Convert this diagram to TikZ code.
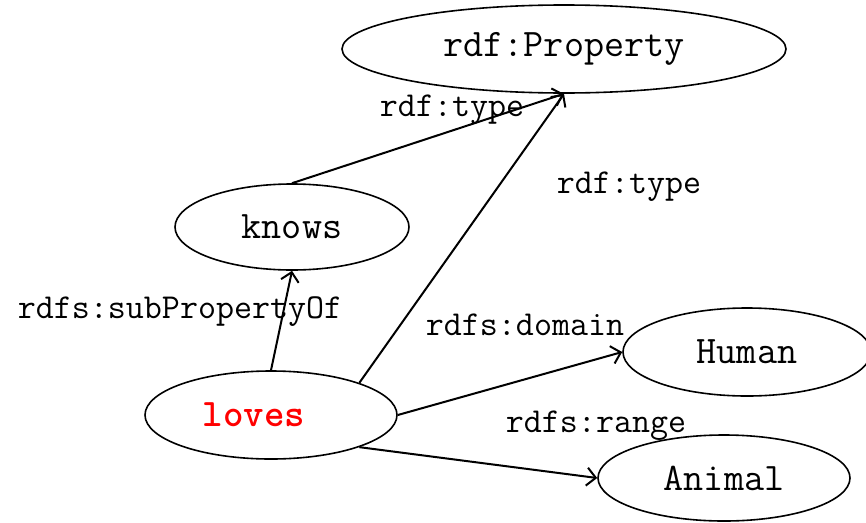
\documentclass[tikz,border=0pt]{standalone}
\usetikzlibrary{shapes.geometric,arrows.meta}
\begin{document}
\begin{tikzpicture}[x=1pt,y=-1pt,
  cls/.style={draw,ellipse,line width=1.6pt,inner sep=0pt,font=\ttfamily\fontsize{39}{44}\selectfont},
  rel/.style={line width=2pt,-{Straight Barb[length=9pt,width=18pt,line width=2pt]}},
  lbl/.style={font=\ttfamily\fontsize{35}{40}\selectfont,inner sep=0pt}]
\useasboundingbox (0,0) rectangle (866,522);
\node[cls,minimum width=444pt,minimum height=88pt] (prop) at (564,49) {rdf:Property};
\node[cls,minimum width=234pt,minimum height=86pt] (knows) at (292,227) {knows};
\node[cls,minimum width=248pt,minimum height=88pt] (human) at (747,352) {Human};
\node[cls,minimum width=252pt,minimum height=88pt] (loves) at (271,415) {};
\node[text=red,font=\ttfamily\bfseries\fontsize{39}{44}\selectfont,inner sep=0pt] (lovestxt) at (254,415) {loves};
\node[cls,minimum width=252pt,minimum height=86pt] (animal) at (724,478) {Animal};
\draw[rel] (knows.north) -- (prop.south);
\draw[rel] (loves.20) -- (prop.south);
\draw[rel] (loves.north) -- (knows.south);
\draw[rel] (loves.east) -- (human.west);
\draw[rel] (loves.-20) -- (animal.west);
\node[lbl] (l1) at (452,110) {rdf:type};
\node[lbl] (l2) at (629,187) {rdf:type};
\node[lbl] (l3) at (180,312) {rdfs:subPropertyOf};
\node[lbl] (l4) at (525,325) {rdfs:domain};
\node[lbl] (l5) at (596,426) {rdfs:range};
\end{tikzpicture}
\end{document}
